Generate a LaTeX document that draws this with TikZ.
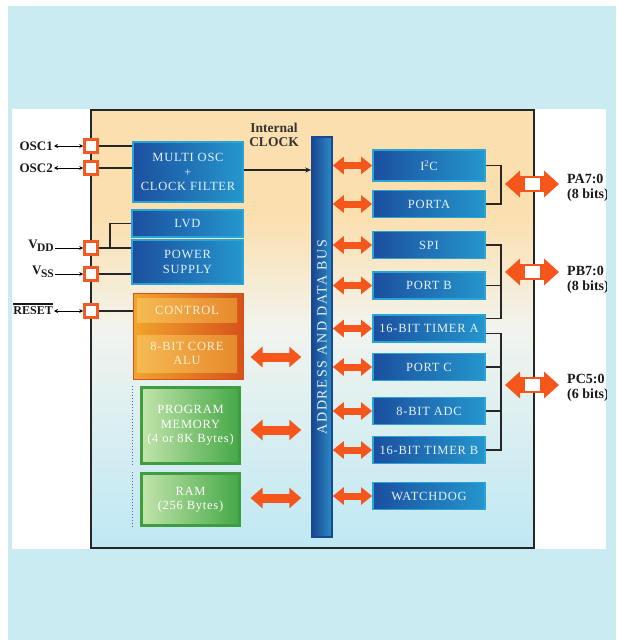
\documentclass[tikz,border=0pt]{standalone}
\usepackage{fontspec}
\setmainfont{Liberation Serif}
\usetikzlibrary{arrows.meta,calc}
\definecolor{bgblue}{HTML}{CBEBF2}
\definecolor{peach}{HTML}{FCDFAE}
\definecolor{paleW}{HTML}{F1F4EE}
\definecolor{cyanl}{HTML}{BEE8F4}
\colorlet{peachmix}{peach!55!paleW}
\definecolor{boxdark}{HTML}{1B4F9F}
\definecolor{boxlight}{HTML}{2596CD}
\definecolor{boxedge}{HTML}{2AA3D6}
\definecolor{boxtext}{HTML}{E6F2FA}
\definecolor{busdark}{HTML}{1A4792}
\definecolor{buslight}{HTML}{2B8DC6}
\definecolor{padorange}{HTML}{F15A22}
\definecolor{fatorange}{HTML}{F4561C}
\definecolor{orgL}{HTML}{F2A52C}
\definecolor{orgR}{HTML}{D6521C}
\definecolor{orgInL}{HTML}{F6BA52}
\definecolor{orgInR}{HTML}{E68A2C}
\definecolor{orgText}{HTML}{FCF0D8}
\definecolor{grnL}{HTML}{C2E4AC}
\definecolor{grnR}{HTML}{45A845}
\definecolor{grnEdge}{HTML}{3E9E3F}
\definecolor{dotblue}{HTML}{3A5FC0}
\pgfdeclareverticalshading{mainshade}{100bp}{color(0bp)=(cyanl); color(25bp)=(cyanl); color(50bp)=(paleW); color(57bp)=(peachmix); color(63bp)=(peach); color(75bp)=(peach); color(100bp)=(peach)}
\newcommand\blkfont{\fontsize{12.5}{14.5}\selectfont\addfontfeatures{LetterSpace=6}}
\newcommand\busfont{\fontsize{14}{15}\selectfont\addfontfeatures{LetterSpace=12}}
\newcommand\extfont{\fontsize{13}{15}\selectfont\bfseries}
\newcommand\clkfont{\fontsize{13.5}{14.5}\selectfont\bfseries}
\newcommand\portfont{\fontsize{14}{15}\selectfont\bfseries}
\newcommand\myovl[1]{\setbox0\hbox{#1}\rlap{\rule[\dimexpr\ht0+2pt\relax]{\wd0}{1.1pt}}\box0}
\begin{document}
\begin{tikzpicture}[x=1pt,y=-1pt,
  bbox/.style={draw=boxedge, line width=1.8pt, left color=boxdark, right color=boxlight, text=boxtext, font=\blkfont, align=center, inner sep=0pt},
  rbox/.style={bbox, minimum width=112pt, minimum height=27pt},
  obox/.style={left color=orgInL, right color=orgInR, text=orgText, font=\blkfont, align=center, inner sep=0pt, minimum width=100pt},
  gbox/.style={draw=grnEdge, line width=3pt, left color=grnL, right color=grnR, text=white, font=\blkfont, align=center, inner sep=0pt, minimum width=98pt},
  pad/.style={draw=padorange, line width=2.6pt, fill=white, minimum size=13pt, inner sep=0pt},
  wire/.style={line width=1.2pt, black!85},
  busfat/.style={draw=fatorange, line width=7pt, {Triangle[width=17pt,length=11pt]}-{Triangle[width=17pt,length=11pt]}},
  memfat/.style={draw=fatorange, line width=9pt, {Triangle[width=20pt,length=12pt]}-{Triangle[width=20pt,length=12pt]}},
  extfat/.style={draw=fatorange, line width=16pt, {Triangle[width=26pt,length=15pt]}-{Triangle[width=26pt,length=15pt]}},
  extlab/.style={font=\extfont, text=black!90, inner sep=1pt},
  small/.style={line width=1pt, black}
]
\useasboundingbox (0,0) rectangle (616,640);
\fill[white] (0,0) rectangle (616,640);
\fill[bgblue] (8,6) rectangle (616,640);
\fill[white] (12,109) rectangle (606,549);
\shade[shading=mainshade] (91,110) rectangle (534,548);
\draw[line width=1.6pt, black!85] (91,110) rectangle (534,548);

% left blocks
\node[bbox, minimum width=110pt, minimum height=60pt] (osc) at (188,172) {MULTI OSC\\+\\CLOCK FILTER};
\node[bbox, minimum width=111pt, minimum height=27pt] (lvd) at (187.5,223.5) {LVD};
\node[bbox, minimum width=111pt, minimum height=44pt] (pwr) at (187.5,262) {POWER\\SUPPLY};
\node[draw=orgR, line width=1pt, left color=orgL, right color=orgR, minimum width=110pt, minimum height=86pt, inner sep=0pt] (ctrl) at (188,336) {};
\node[obox, minimum height=24pt] (ctrltxt) at (187,310) {CONTROL};
\node[obox, minimum height=37pt] (alu) at (187,353.5) {8-BIT CORE\\ALU};
\node[gbox, minimum height=76pt] (prog) at (190.5,425.5) {PROGRAM\\MEMORY\\(4 or 8K Bytes)};
\node[gbox, minimum height=52pt] (ram) at (190.5,499.5) {RAM\\(256 Bytes)};
\draw[dotted, dotblue, line width=1pt] (prog.north west -| ctrl.west) -- (prog.south west -| ctrl.west);
\draw[dotted, dotblue, line width=1pt] (ram.north west -| ctrl.west) -- (ram.south west -| ctrl.west);

% bus
\node[draw=busdark, line width=1.5pt, left color=busdark, right color=buslight, minimum width=20pt, minimum height=400pt, inner sep=0pt] (bus) at (322,337) {};
\node[rotate=90, text=boxtext, font=\busfont, inner sep=0pt] (bustxt) at (bus.center) {ADDRESS AND DATA BUS};

% right blocks
\node[rbox, minimum height=31pt] (i2c) at (429,165.5) {I\textsuperscript{2}C};
\node[rbox] (porta) at (429,204) {PORTA};
\node[rbox] (spi) at (429,245) {SPI};
\node[rbox] (portb) at (429,285.5) {PORT B};
\node[rbox] (timera) at (429,328.5) {16-BIT TIMER A};
\node[rbox] (portc) at (429,367) {PORT C};
\node[rbox] (adc) at (429,411) {8-BIT ADC};
\node[rbox] (timerb) at (429,450) {16-BIT TIMER B};
\node[rbox] (wdog) at (429,496) {WATCHDOG};

% pads
\node[pad] (p1) at (91,146) {};
\node[pad] (p2) at (91,168) {};
\node[pad] (p3) at (91,248) {};
\node[pad] (p4) at (91,274) {};
\node[pad] (p5) at (91,311) {};

% external labels left
\node[extlab, anchor=east] (l1) at (54,146) {OSC1};
\node[extlab, anchor=east] (l2) at (54,168) {OSC2};
\node[extlab, anchor=east] (l3) at (55,246) {V\kern-.5pt\raisebox{-3.5pt}{\fontsize{11.5}{12}\selectfont DD}};
\node[extlab, anchor=east] (l4) at (55,272) {V\kern-.5pt\raisebox{-3.5pt}{\fontsize{11.5}{12}\selectfont SS}};
\node[extlab, anchor=east, font=\fontsize{12}{14}\selectfont\bfseries] (l5) at (54,309) {\myovl{RESET}};
\draw[small, {Stealth[length=4pt,width=4pt]}-{Stealth[length=4pt,width=4pt]}] (l1.east) -- (p1.west);
\draw[small, {Stealth[length=4pt,width=4pt]}-{Stealth[length=4pt,width=4pt]}] (l2.east) -- (p2.west);
\draw[small, -{Stealth[length=4pt,width=4pt]}] (l3.east |- p3) -- (p3.west);
\draw[small, -{Stealth[length=4pt,width=4pt]}] (l4.east |- p4) -- (p4.west);
\draw[small, {Stealth[length=4pt,width=4pt]}-{Stealth[length=4pt,width=4pt]}] (l5.east |- p5) -- (p5.west);

% wires
\coordinate (vj) at (110,248);
\draw[wire] (p1.east) -- (p1.east -| osc.west);
\draw[wire] (p2.east) -- (p2.east -| osc.west);
\draw[wire] (p3.east) -- (p3.east -| pwr.west);
\draw[wire] (p3.east -| vj) |- (lvd.west);
\draw[wire] (p4.east) -- (p4.east -| pwr.west);
\draw[wire] (p5.east) -- (p5.east -| ctrl.west);

% clock
\node[font=\clkfont, align=center, text=black!80, inner sep=0pt] (clk) at (274,135) {Internal\\CLOCK};
\draw[wire, -{Stealth[length=6pt,width=5pt]}] ([yshift=2pt]osc.east) -- ([yshift=2pt]osc.east -| bus.west);

% bus arrows
\foreach \b in {i2c,porta,spi,portb,timera,portc,adc,timerb,wdog}
  \draw[busfat] (\b.west -| bus.east) -- (\b.west);
\coordinate (ya) at (0,357);
\coordinate (yp) at (0,430);
\coordinate (yr) at (0,498);
\draw[memfat] ($(ctrl.east |- ya)+(7,0)$) -- ($(bus.west |- ya)+(-10,0)$);
\draw[memfat] ($(ctrl.east |- yp)+(7,0)$) -- ($(bus.west |- yp)+(-10,0)$);
\draw[memfat] ($(ctrl.east |- yr)+(7,0)$) -- ($(bus.west |- yr)+(-10,0)$);

% brackets
\coordinate (bx) at (501,0);
\draw[wire] (i2c.east) -- (i2c.east -| bx) -- (porta.east -| bx) -- (porta.east);
\draw[wire] (spi.east) -- (spi.east -| bx) -- ([yshift=10pt]timera.east -| bx) -- ([yshift=10pt]timera.east);
\draw[wire] (portb.east) -- (portb.east -| bx);
\draw[wire] ([yshift=-5pt]timera.east) -- ([yshift=-5pt]timera.east -| bx) -- (timerb.east -| bx) -- (timerb.east);
\draw[wire] (portc.east) -- (portc.east -| bx);
\draw[wire] (adc.east) -- (adc.east -| bx);

% external fat arrows
\coordinate (paL) at (505,184);
\coordinate (paR) at (559,184);
\coordinate (pbL) at (505,272);
\coordinate (pbR) at (559,272);
\coordinate (pcL) at (505,385);
\coordinate (pcR) at (559,385);
\draw[extfat] (paL) -- (paR);
\draw[extfat] (pbL) -- (pbR);
\draw[extfat] (pcL) -- (pcR);
\node[fill=white, minimum width=15pt, minimum height=12pt, inner sep=0pt] (pasq) at ($(paL)!0.5!(paR)$) {};
\node[fill=white, minimum width=15pt, minimum height=12pt, inner sep=0pt] (pbsq) at ($(pbL)!0.5!(pbR)$) {};
\node[fill=white, minimum width=15pt, minimum height=12pt, inner sep=0pt] (pcsq) at ($(pcL)!0.5!(pcR)$) {};

\begin{scope}
\clip (12,109) rectangle (606,549);
\node[extlab, anchor=west, align=left, font=\portfont] (palab) at (566,188) {PA7:0\\(8 bits)};
\node[extlab, anchor=west, align=left, font=\portfont] (pblab) at (566,280) {PB7:0\\(8 bits)};
\node[extlab, anchor=west, align=left, font=\portfont] (pclab) at (566,388) {PC5:0\\(6 bits)};
\end{scope}
\end{tikzpicture}
\end{document}
